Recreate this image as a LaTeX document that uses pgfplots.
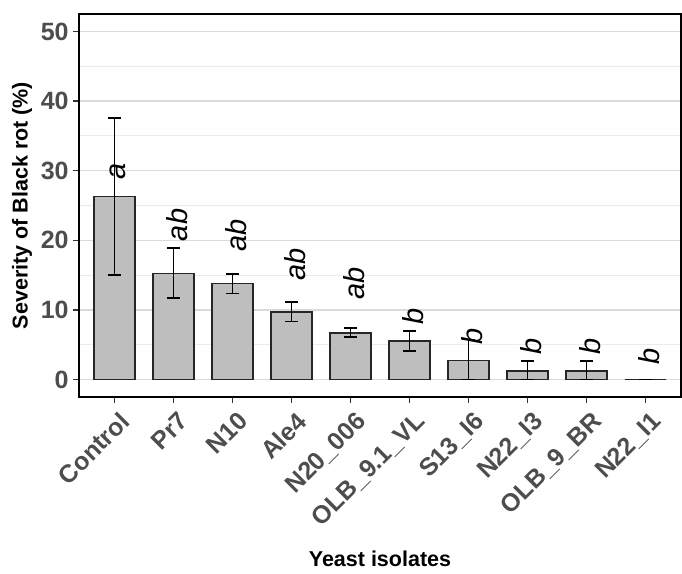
\documentclass[border=0pt]{standalone}
\usepackage{pgfplots}
\pgfplotsset{compat=1.18}
\usepackage{pgfplotstable}
\usepackage{fontspec}
\setmainfont{Liberation Sans}
\definecolor{tickgrey}{HTML}{4D4D4D}
\definecolor{tickmark}{HTML}{333333}
\definecolor{barfill}{HTML}{BEBEBE}
\definecolor{gridmajor}{HTML}{DADADA}
\definecolor{gridminor}{HTML}{EBEBEB}

\pgfplotstableread{
x lx y ep em ly lab
1 1.06 26.3 11.3 11.3 29.96 a
2 2.06 15.25 3.65 3.55 22.2 ab
3 3.06 13.77 1.4 1.4 20.76 ab
4 4.06 9.74 1.4 1.42 16.5 ab
5 5.06 6.72 0.65 0.6 13.8 ab
6 6.06 5.53 1.42 1.46 9.0 b
7 7.06 2.76 3.0 2.76 6.13 b
8 8.06 1.26 1.4 1.26 4.7 b
9 9.06 1.26 1.4 1.26 4.7 b
10 10.06 0 0 0 3.26 b
}\data

\begin{document}
\begin{tikzpicture}
\begin{axis}[
  scale only axis,
  width=301pt, height=191.5pt,
  xmin=0.4, xmax=10.6,
  ymin=-2.5, ymax=52.5,
  xtick={1,...,10},
  xticklabels={Control, Pr7, N10, Ale4, N20\_006, OLB\_9.1\_VL, S13\_I6, N22\_I3, OLB\_9\_BR, N22\_I1},
  ytick={0,10,20,30,40,50},
  minor ytick={5,15,25,35,45},
  ymajorgrids, yminorgrids,
  major grid style={gridmajor, line width=0.6pt},
  minor grid style={gridminor, line width=0.4pt},
  tick align=outside,
  xtick pos=bottom, ytick pos=left,
  major tick length=3pt,
  minor tick length=0pt,
  major tick style={tickmark, line width=0.6pt},
  axis line style={black, line width=0.6pt},
  /pgf/number format/assume math mode=true,
  ticklabel style={font=\bfseries\fontsize{12.5}{14}\selectfont, text=tickgrey},
  xticklabel style={rotate=45, anchor=north east, inner sep=1pt, yshift=-3pt},
  yticklabel style={inner sep=2pt},
  xlabel={Yeast isolates},
  ylabel={Severity of Black rot (\%)},
  xlabel style={font=\bfseries\fontsize{10.75}{12}\selectfont, at={(axis description cs:0.5,-0.423)}, anchor=center},
  ylabel style={font=\bfseries\fontsize{10.75}{12}\selectfont, at={(axis description cs:-0.0947,0.5)}, anchor=center},
]
\addplot[ybar, bar width=0.7, fill=barfill, draw=black!85, line width=0.8pt,
  error bars/.cd, y dir=both, y explicit,
  error bar style={black, line width=0.8pt},
  error mark options={rotate=90, black, mark size=3.2pt, line width=0.8pt}]
  table[x=x, y=y, y error plus=ep, y error minus=em] {\data};
\addplot[draw=none, mark=none, nodes near coords, point meta=explicit symbolic,
  nodes near coords style={rotate=90, anchor=center, inner sep=0pt, font=\itshape\fontsize{14.5}{16}\selectfont, text=black}]
  table[x=lx, y=ly, meta=lab] {\data};
\end{axis}
\path (-39.5pt,-87pt) rectangle (301.5pt,198.5pt);
\end{tikzpicture}
\end{document}
